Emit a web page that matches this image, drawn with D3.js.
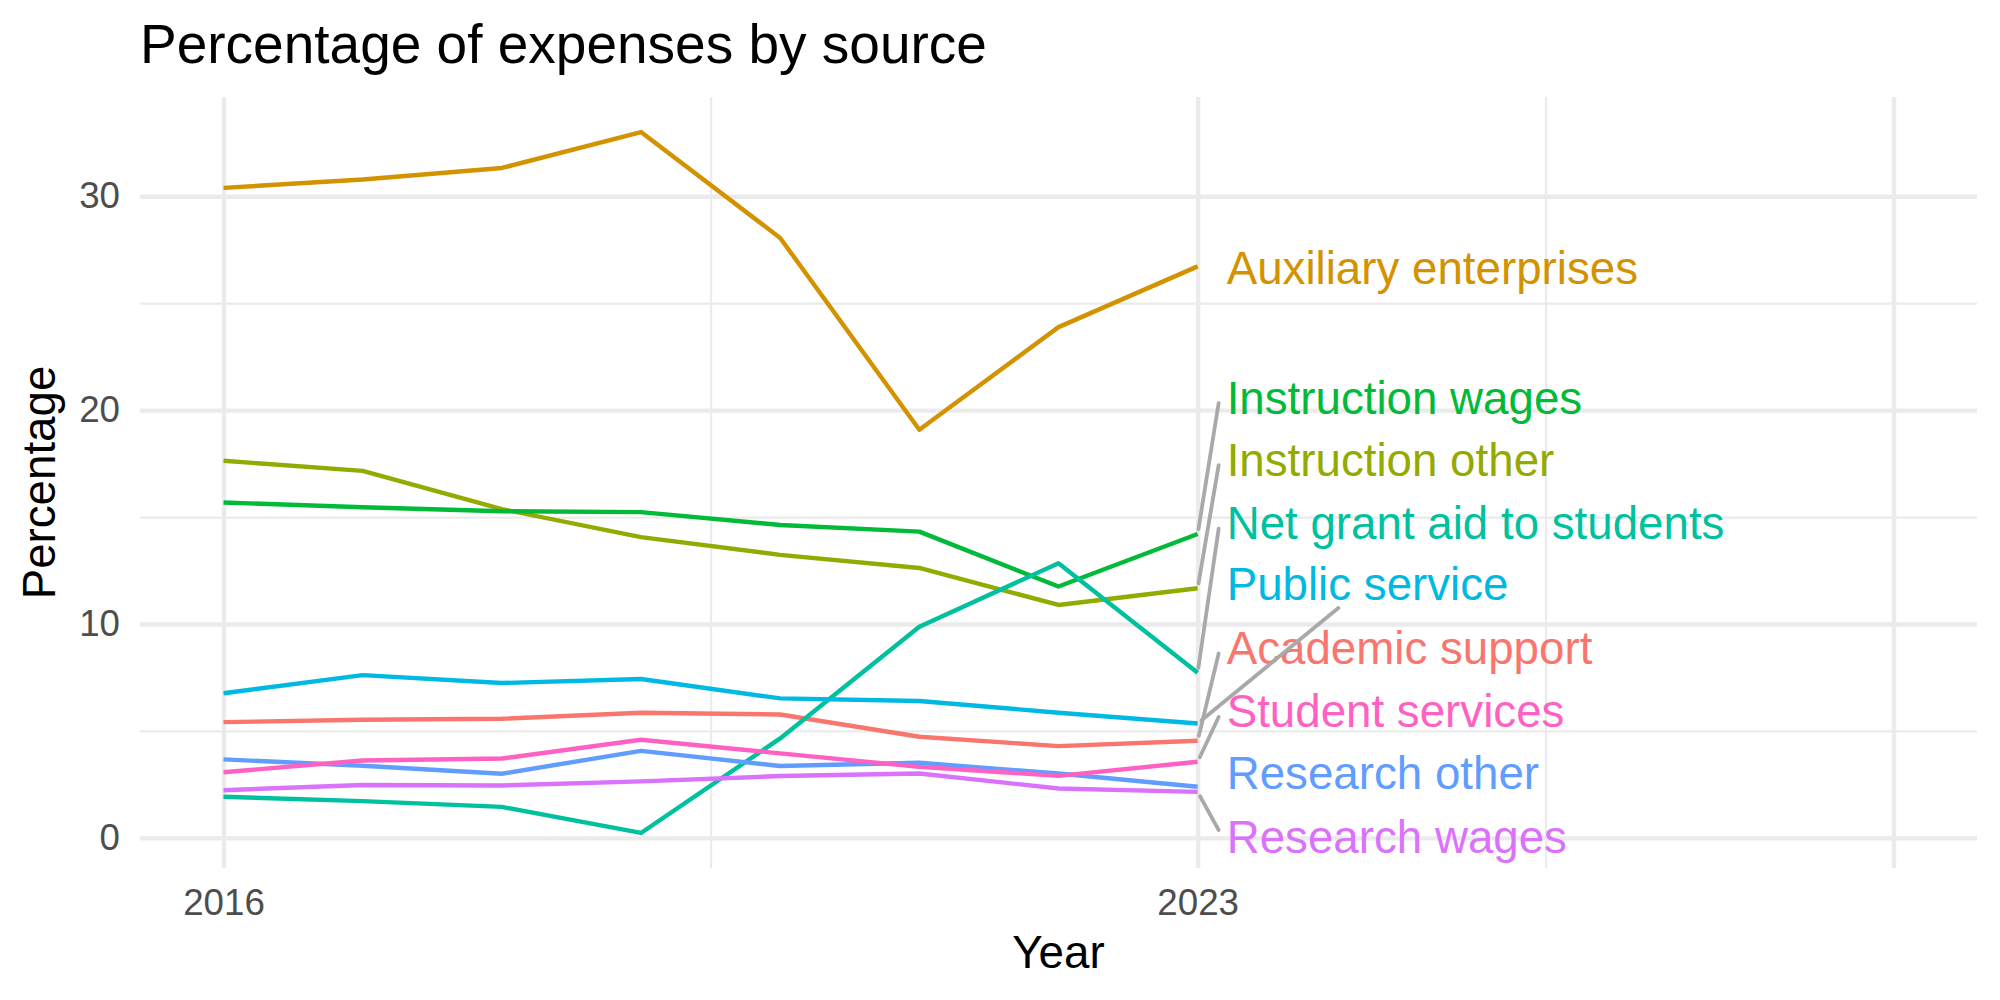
<!DOCTYPE html>
<html>
<head>
<meta charset="utf-8">
<script src="https://cdn.jsdelivr.net/npm/d3@7"></script>
<style>
  body { margin: 0; background: #fff; }
  svg text { font-family: "Liberation Sans", Arial, Helvetica, sans-serif; }
  .grid line { stroke: #ebebeb; }
  .grid path, .axis path { display: none; }
</style>
</head>
<body>
<svg id="chart" width="2000" height="1000"></svg>
<script>
// data
var years = [2016, 2017, 2018, 2019, 2020, 2021, 2022, 2023];

var sources = ["Academic support", "Auxiliary enterprises", "Instruction other",
  "Instruction wages", "Net grant aid to students", "Public service",
  "Research other", "Research wages", "Student services"];

var academicSupport   = [5.41, 5.52, 5.57, 5.85, 5.77, 4.73, 4.29, 4.54];
var auxiliary         = [30.39, 30.78, 31.32, 33.0, 28.05, 19.08, 23.88, 26.72];
var instructionOther  = [17.63, 17.16, 15.37, 14.06, 13.23, 12.62, 10.89, 11.67];
var instructionWages  = [15.68, 15.46, 15.27, 15.23, 14.63, 14.32, 11.75, 14.21];
var netGrantAid       = [1.92, 1.72, 1.45, 0.23, 4.65, 9.87, 12.84, 7.72];
var publicService     = [6.76, 7.61, 7.24, 7.43, 6.52, 6.40, 5.85, 5.35];
var researchOther     = [3.67, 3.37, 3.00, 4.07, 3.36, 3.51, 3.01, 2.39];
var researchWages     = [2.23, 2.47, 2.45, 2.64, 2.89, 3.01, 2.31, 2.15];
var studentServices   = [3.07, 3.62, 3.71, 4.59, 3.95, 3.32, 2.90, 3.56];

// where the repelled labels ended up (percentage units), same order as sources
var labelY = [8.90, 26.66, 17.71, 20.61, 14.74, 11.87, 3.05, 0.08, 5.93];

var xLimits = [2016, 2028];
var xBreaks = [2016, 2023, 2028];
var xLabels = ["2016", "2023", ""];
var xMinorBreaks = [2019.5, 2025.5];
var yBreaks = [0, 10, 20, 30];
var yMinorBreaks = [5, 15, 25];

var colours = ["#F8766D", "#D39200", "#93AA00", "#00BA38", "#00C19F",
  "#00B9E3", "#619CFF", "#DB72FB", "#FF61C3"];

// labels whose leader line heads for the middle of the text (ggrepel quirk)
var leaderToCentre = ["Public service"];

var seriesValues = [academicSupport, auxiliary, instructionOther, instructionWages,
  netGrantAid, publicService, researchOther, researchWages, studentServices];

var series = sources.map(function (name, i) {
  return {
    name: name,
    labelY: labelY[i],
    values: years.map(function (yr, j) { return {year: yr, value: seriesValues[i][j]}; })
  };
});

var svg = d3.select("#chart"),
  margin = {top: 97, right: 23, bottom: 132, left: 140},
  width = +svg.attr("width") - margin.left - margin.right,
  height = +svg.attr("height") - margin.top - margin.bottom,
  g = svg.append("g").attr("transform", "translate(" + margin.left + "," + margin.top + ")");

var colour = d3.scaleOrdinal().domain(sources).range(colours);

// ggplot style 5% expansion on both scales
var xPad = (xLimits[1] - xLimits[0]) * 0.05;
var x = d3.scaleLinear()
  .domain([xLimits[0] - xPad, xLimits[1] + xPad])
  .range([0, width]);

var allValues = d3.merge(seriesValues);
var yExt = d3.extent(allValues);
var yPad = (yExt[1] - yExt[0]) * 0.05;
var y = d3.scaleLinear()
  .domain([yExt[0] - yPad, yExt[1] + yPad])
  .range([height, 0]);

// gridlines, minor first
function gridX(values, w) {
  g.append("g")
    .attr("class", "grid")
    .attr("transform", "translate(0," + height + ")")
    .call(d3.axisBottom(x).tickValues(values).tickSize(height).tickSizeOuter(0).tickFormat(""))
    .selectAll("line")
    .attr("y2", -height)
    .attr("stroke-width", w);
}
function gridY(values, w) {
  g.append("g")
    .attr("class", "grid")
    .call(d3.axisLeft(y).tickValues(values).tickSize(-width).tickSizeOuter(0).tickFormat(""))
    .selectAll("line")
    .attr("stroke-width", w);
}
gridX(xMinorBreaks, 2.2);
gridY(yMinorBreaks, 2.2);
gridX(xBreaks, 4.4);
gridY(yBreaks, 4.4);

// axes (text only, theme_minimal has no ticks)
var xAxis = g.append("g")
  .attr("class", "axis")
  .attr("transform", "translate(0," + height + ")")
  .call(d3.axisBottom(x).tickValues(xBreaks).tickSize(0).tickPadding(21)
    .tickFormat(function (d, i) { return xLabels[i]; }));

var yAxis = g.append("g")
  .attr("class", "axis")
  .call(d3.axisLeft(y).tickValues(yBreaks).tickSize(0).tickPadding(20));

[xAxis, yAxis].forEach(function (ax) {
  ax.attr("font-family", null).attr("font-size", null);
  ax.selectAll("text")
    .style("font-size", "36.7px")
    .attr("fill", "#4d4d4d");
});

// lines
var line = d3.line()
  .x(function (d) { return x(d.year); })
  .y(function (d) { return y(d.value); });

g.selectAll(".series")
  .data(series)
  .enter().append("path")
  .attr("class", "series")
  .attr("d", function (d) { return line(d.values); })
  .attr("fill", "none")
  .attr("stroke", function (d) { return colour(d.name); })
  .attr("stroke-width", 4.4)
  .attr("stroke-linejoin", "round");

// repelled labels with leader segments
var lastYear = years[years.length - 1];
var labelX = x(lastYear) + 29;
var fontSize = 45.7;
var halfBox = 24;

series.forEach(function (s) {
  var grp = g.append("g");
  var last = s.values[s.values.length - 1];
  var px = x(last.year), py = y(last.value);
  var cy = y(s.labelY);

  var txt = grp.append("text")
    .attr("x", labelX)
    .attr("y", cy)
    .attr("dy", "0.36em")
    .style("font-size", fontSize + "px")
    .attr("fill", colour(s.name))
    .text(s.name);

  var d = py - cy;
  if (Math.abs(d) < halfBox) return;

  var ex, ey;
  if (leaderToCentre.indexOf(s.name) >= 0) {
    var cx = labelX + txt.node().getComputedTextLength() / 2;
    var edge = cy + (d > 0 ? halfBox : -halfBox);
    var t = (py - edge) / (py - cy);
    ex = px + t * (cx - px);
    ey = edge;
  } else {
    ex = labelX - 8;
    ey = cy + (d > 0 ? 6 : -6);
  }
  var len = Math.sqrt((ex - px) * (ex - px) + (ey - py) * (ey - py));
  var sx = px + (ex - px) * 5 / len, sy = py + (ey - py) * 5 / len;

  grp.insert("line", "text")
    .attr("x1", sx).attr("y1", sy)
    .attr("x2", ex).attr("y2", ey)
    .attr("stroke", "#a9a9a9")
    .attr("stroke-width", 3.8)
    .attr("stroke-linecap", "round");
});

// titles
svg.append("text")
  .attr("x", margin.left)
  .attr("y", 62.7)
  .style("font-size", "55px")
  .attr("fill", "#000")
  .text("Percentage of expenses by source");

svg.append("text")
  .attr("x", margin.left + width / 2)
  .attr("y", 968)
  .attr("text-anchor", "middle")
  .style("font-size", "45.7px")
  .attr("fill", "#000")
  .text("Year");

svg.append("text")
  .attr("transform", "translate(55," + (margin.top + height / 2) + ") rotate(-90)")
  .attr("text-anchor", "middle")
  .style("font-size", "45.7px")
  .attr("fill", "#000")
  .text("Percentage");
</script>
</body>
</html>
